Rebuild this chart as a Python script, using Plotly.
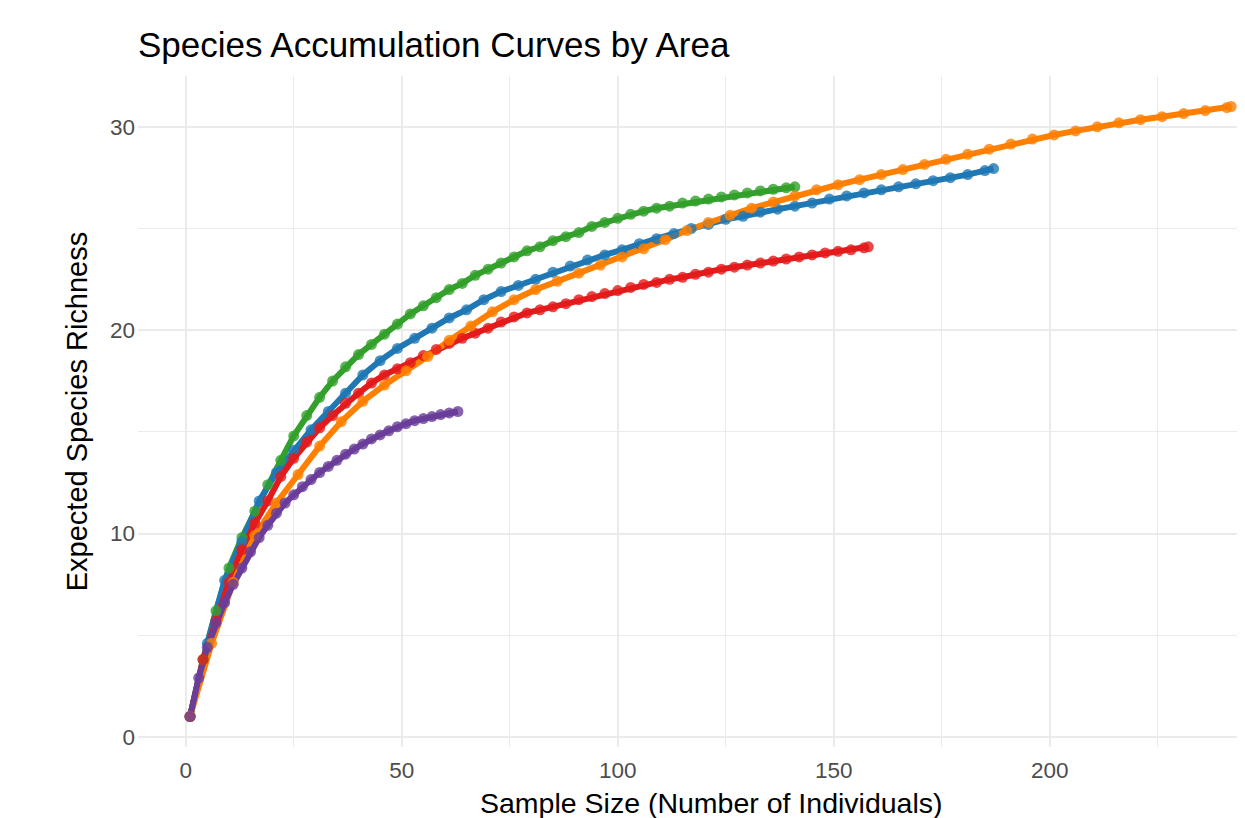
import plotly.graph_objects as go

# ---- data ----
green_x = [1, 4, 7, 10, 13, 16, 19, 22, 25, 28, 31, 34, 37, 40, 43, 46, 49, 52, 55, 58,
           61, 64, 67, 70, 73, 76, 79, 82, 85, 88, 91, 94, 97, 100, 103, 106, 109, 112,
           115, 118, 121, 124, 127, 130, 133, 136, 139, 141]
green_y = [1.0, 3.8, 6.2, 8.3, 9.8, 11.1, 12.4, 13.6, 14.8, 15.8, 16.7, 17.5, 18.2, 18.8,
           19.3, 19.8, 20.3, 20.8, 21.2, 21.6, 22.0, 22.3, 22.7, 23.0, 23.3, 23.6, 23.9,
           24.1, 24.4, 24.6, 24.8, 25.1, 25.3, 25.5, 25.7, 25.85, 26.0, 26.1, 26.25, 26.35,
           26.45, 26.55, 26.65, 26.75, 26.85, 26.93, 27.0, 27.05]

blue_x = [1, 5, 9, 13, 17, 21, 25, 29, 33, 37, 41, 45, 49, 53, 57, 61, 65, 69, 73, 77,
          81, 85, 89, 93, 97, 101, 105, 109, 113, 117, 121, 125, 129, 133, 137, 141, 145,
          149, 153, 157, 161, 165, 169, 173, 177, 181, 185, 187]
blue_y = [1.0, 4.6, 7.7, 9.6, 11.6, 13.0, 14.1, 15.1, 16.0, 16.9, 17.8, 18.5, 19.1, 19.6,
          20.1, 20.6, 21.0, 21.5, 21.9, 22.2, 22.5, 22.85, 23.15, 23.45, 23.7, 23.95,
          24.25, 24.5, 24.75, 25.0, 25.2, 25.45, 25.6, 25.8, 25.95, 26.1, 26.25, 26.45,
          26.6, 26.75, 26.9, 27.05, 27.2, 27.35, 27.5, 27.65, 27.85, 27.95]

red_x = [1, 4, 7, 10, 13, 16, 19, 22, 25, 28, 31, 34, 37, 40, 43, 46, 49, 52, 55, 58, 61,
         64, 67, 70, 73, 76, 79, 82, 85, 88, 91, 94, 97, 100, 103, 106, 109, 112, 115, 118,
         121, 124, 127, 130, 133, 136, 139, 142, 145, 148, 151, 154, 157, 158]
red_y = [1.0, 3.8, 5.7, 7.6, 9.2, 10.5, 11.6, 12.8, 13.7, 14.5, 15.2, 15.8, 16.4, 16.9,
         17.4, 17.8, 18.1, 18.4, 18.75, 19.05, 19.35, 19.6, 19.85, 20.1, 20.4, 20.65,
         20.85, 21.0, 21.15, 21.3, 21.5, 21.65, 21.8, 21.95, 22.1, 22.25, 22.35, 22.5,
         22.6, 22.75, 22.85, 23.0, 23.1, 23.2, 23.3, 23.4, 23.5, 23.6, 23.7, 23.8, 23.88,
         23.95, 24.05, 24.1]

orange_x = [1, 6, 11, 16, 21, 26, 31, 36, 41, 46, 51, 56, 61, 66, 71, 76, 81, 86, 91, 96,
            101, 106, 111, 116, 121, 126, 131, 136, 141, 146, 151, 156, 161, 166, 171, 176,
            181, 186, 191, 196, 201, 206, 211, 216, 221, 226, 231, 236, 241, 242]
orange_y = [1.0, 4.6, 7.6, 9.9, 11.5, 12.9, 14.3, 15.5, 16.5, 17.3, 18.0, 18.7, 19.5, 20.2,
            20.9, 21.5, 22.0, 22.4, 22.8, 23.2, 23.6, 24.0, 24.45, 24.9, 25.3, 25.65, 26.0,
            26.3, 26.6, 26.9, 27.15, 27.4, 27.65, 27.9, 28.15, 28.4, 28.65, 28.9, 29.15,
            29.4, 29.6, 29.8, 30.0, 30.2, 30.35, 30.5, 30.65, 30.8, 30.95, 31.0]

purple_x = [1, 3, 5, 7, 9, 11, 13, 15, 17, 19, 21, 23, 25, 27, 29, 31, 33, 35, 37, 39, 41,
            43, 45, 47, 49, 51, 53, 55, 57, 59, 61, 63]
purple_y = [1.0, 2.9, 4.4, 5.6, 6.6, 7.5, 8.3, 9.1, 9.8, 10.4, 11.0, 11.5, 11.9, 12.3,
            12.65, 13.0, 13.3, 13.6, 13.9, 14.15, 14.4, 14.65, 14.85, 15.05, 15.25, 15.4,
            15.55, 15.65, 15.75, 15.85, 15.93, 16.0]

series = [
    ("Area 1", green_x, green_y, "#33a02c"),
    ("Area 2", blue_x, blue_y, "#1f78b4"),
    ("Area 3", red_x, red_y, "#e31a1c"),
    ("Area 4", orange_x, orange_y, "#ff7f00"),
    ("Area 5", purple_x, purple_y, "#6a3d9a"),
]

x_ticks = [0, 50, 100, 150, 200]
x_minor = [25, 75, 125, 175, 225]
y_ticks = [0, 10, 20, 30]
y_minor = [5, 15, 25]

FONT = "Liberation Sans, Arial, sans-serif"
W, H = 1237, 810   # page body has an 8 px margin

fig = go.Figure()
for name, xs, ys, col in series:
    fig.add_trace(go.Scatter(x=xs, y=ys, mode="lines", name=name,
                             line=dict(color=col, width=6), showlegend=False,
                             hoverinfo="skip"))
for name, xs, ys, col in series:
    fig.add_trace(go.Scatter(x=xs, y=ys, mode="markers", name=name,
                             marker=dict(color=col, size=11, opacity=0.8, line=dict(width=0)),
                             showlegend=False))

fig.update_layout(
    width=W, height=H,
    margin=dict(l=130, r=0, t=68, b=71),
    paper_bgcolor="white", plot_bgcolor="white",
    font=dict(family=FONT, color="black"),
    title=dict(text="Species Accumulation Curves by Area",
               font=dict(size=35, color="black", family=FONT),
               x=130 / W, xanchor="left", xref="container",
               y=1 - 37 / H, yanchor="middle", yref="container"),
    xaxis=dict(range=[-11.05, 245.2], tickvals=x_ticks, ticktext=[str(v) for v in x_ticks],
               showgrid=True, gridcolor="#ebebeb", gridwidth=2, zeroline=False,
               showline=False, ticks="", tickfont=dict(size=22.5, color="#4d4d4d"),
               ticklabelstandoff=7,
               minor=dict(tickvals=x_minor, showgrid=True, gridcolor="#ebebeb", gridwidth=1.2)),
    yaxis=dict(range=[-0.5, 32.5], tickvals=y_ticks, ticktext=[str(v) for v in y_ticks],
               showgrid=True, gridcolor="#ebebeb", gridwidth=2, zeroline=False,
               showline=False, ticks="", tickfont=dict(size=22.5, color="#4d4d4d"),
               ticklabelstandoff=2,
               minor=dict(tickvals=y_minor, showgrid=True, gridcolor="#ebebeb", gridwidth=1.2),
               title=dict(text="Expected Species Richness",
                          font=dict(size=29, color="black"), standoff=13)),
)

# x-axis title: centred on the full (uncropped) panel of the original chart
fig.add_annotation(text="Sample Size (Number of Individuals)", showarrow=False,
                   xref="paper", x=(711 - 138) / 1107, xanchor="center",
                   yref="paper", y=0, yanchor="middle", yshift=-56,
                   font=dict(size=28.5, color="black", family=FONT))

fig.write_html("out.html")
